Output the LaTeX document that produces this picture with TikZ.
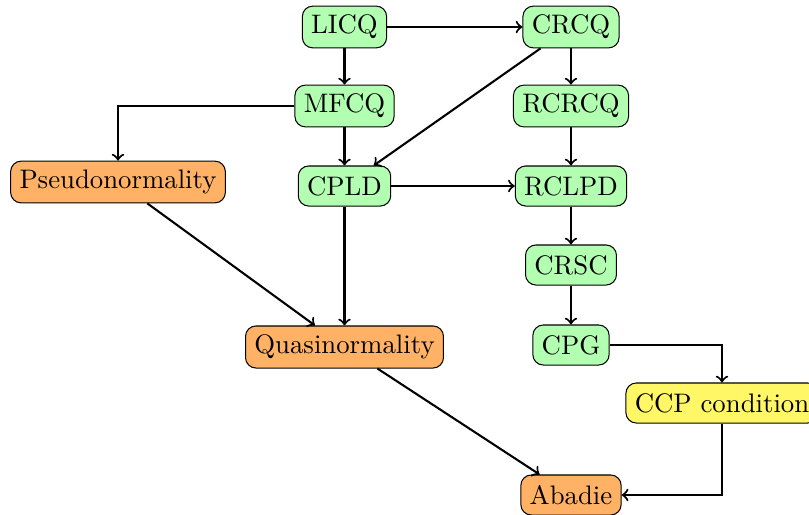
\documentclass[tikz,border=0pt]{standalone}
\begin{document}
\begin{tikzpicture}[x=0.01352cm,y=-0.01352cm,
  box/.style={draw,rounded corners=4pt,line width=0.4pt,inner sep=3.4pt,minimum height=15.4pt,font=\fontsize{10.3}{12}\selectfont},
  gbox/.style={box,fill=green!30},
  obox/.style={box,fill=orange!60},
  ybox/.style={box,fill=yellow!60},
  arr/.style={->,thick}]
\useasboundingbox (0,0) rectangle (809,515);
\node[gbox] (licq) at (344.5,27) {LICQ};
\node[gbox] (crcq) at (571,27) {CRCQ};
\node[gbox] (mfcq) at (344.5,106) {MFCQ};
\node[gbox] (rcrcq) at (571,106) {RCRCQ};
\node[obox] (pseudo) at (118,182) {Pseudonormality};
\node[gbox] (cpld) at (344.5,186) {CPLD};
\node[gbox] (rclpd) at (571,186) {RCLPD};
\node[gbox] (crsc) at (571,265) {CRSC};
\node[gbox] (cpg) at (571,345) {CPG};
\node[obox] (quasi) at (344.5,347) {Quasinormality};
\node[ybox] (ccp) at (722,403) {CCP condition};
\node[obox] (abadie) at (571,495) {Abadie};
\draw[arr] (licq) -- (crcq);
\draw[arr] (licq) -- (mfcq);
\draw[arr] (crcq) -- (rcrcq);
\draw[arr] (crcq) -- (cpld);
\draw[arr] (mfcq) -| (pseudo);
\draw[arr] (mfcq) -- (cpld);
\draw[arr] (cpld) -- (rclpd);
\draw[arr] (rcrcq) -- (rclpd);
\draw[arr] (rclpd) -- (crsc);
\draw[arr] (crsc) -- (cpg);
\draw[arr] (pseudo) -- (quasi);
\draw[arr] (cpld) -- (quasi);
\draw[arr] (quasi) -- (abadie);
\draw[arr] (cpg) -| (ccp);
\draw[arr] (ccp) |- (abadie);
\end{tikzpicture}
\end{document}
